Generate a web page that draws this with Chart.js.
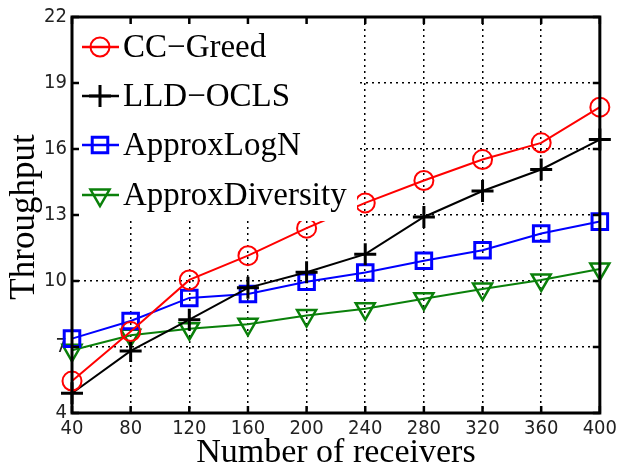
<!DOCTYPE html>
<html><head><meta charset="utf-8">
<script src="https://cdn.jsdelivr.net/npm/chart.js@4.4.0/dist/chart.umd.min.js"></script>
<style>html,body{margin:0;padding:0;background:#fff}#wrap{width:621px;height:473px}</style>
</head><body><div id="wrap"><canvas id="c" width="621" height="473"></canvas></div>
<script>
const receivers = [40, 80, 120, 160, 200, 240, 280, 320, 360, 400];
const ccGreed = [5.45, 7.7, 10.05, 11.15, 12.4, 13.55, 14.57, 15.52, 16.28, 17.9];
const lldOcls = [4.9, 6.82, 8.24, 9.69, 10.4, 11.22, 12.91, 14.09, 15.07, 16.43];
const approxLogN = [7.38, 8.18, 9.23, 9.41, 9.97, 10.39, 10.92, 11.4, 12.16, 12.7];
const approxDiversity = [6.85, 7.53, 7.83, 8.03, 8.43, 8.74, 9.19, 9.64, 10.05, 10.55];
const yTicks = [4, 7, 10, 13, 16, 19, 22];
const xTicks = receivers;
const seriesNames = ['CC\u2212Greed', 'LLD\u2212OCLS', 'ApproxLogN', 'ApproxDiversity'];
const xTitle = 'Number of receivers';
const yTitle = 'Throughput';

const SERIF = "'Liberation Serif', 'DejaVu Serif', serif";
const NARROW = "'DejaVu Sans Condensed', 'Liberation Sans Narrow', 'Liberation Sans', sans-serif";

function mk(label, data, color, style, radius, bw, rot) {
  return {
    label, data: data.map((v, i) => ({x: receivers[i], y: v})),
    borderColor: color, backgroundColor: 'rgba(0,0,0,0)', borderWidth: 2,
    pointStyle: style, pointRadius: radius, pointBorderWidth: bw, pointRotation: rot || 0,
    pointBorderColor: color, pointBackgroundColor: 'rgba(0,0,0,0)',
    tension: 0, clip: false
  };
}

const legendPlugin = {
  id: 'innerLegend',
  afterDatasetsDraw(chart) {
    const ctx = chart.ctx, a = chart.chartArea;
    ctx.save();
    ctx.fillStyle = '#fff';
    ctx.fillRect(a.left, a.top, 357 - a.left, 221 - a.top);
    const ys = [47, 96, 145, 195];
    chart.data.datasets.forEach((ds, i) => {
      const y = ys[i];
      ctx.strokeStyle = ds.borderColor; ctx.lineWidth = 2.5;
      ctx.beginPath(); ctx.moveTo(82, y); ctx.lineTo(119, y); ctx.stroke();
      ctx.fillStyle = 'rgba(0,0,0,0)';
      ctx.lineWidth = ds.pointBorderWidth;
      Chart.helpers.drawPoint(ctx, {pointStyle: ds.pointStyle, rotation: ds.pointRotation, radius: ds.pointRadius, borderWidth: ds.pointBorderWidth}, 100, y);
      ctx.fillStyle = '#000';
      ctx.font = '33px ' + SERIF;
      ctx.textBaseline = 'middle'; ctx.textAlign = 'left';
      ctx.fillText(ds.label, 123, y + 1);
    });
    ctx.restore();
  }
};

const framePlugin = {
  id: 'frame',
  afterDraw(chart) {
    const ctx = chart.ctx, a = chart.chartArea;
    const xs = chart.scales.x, ys = chart.scales.y;
    ctx.save();
    ctx.strokeStyle = '#000';
    ctx.lineWidth = 2.5;
    const L = 7;
    ctx.beginPath();
    xTicks.forEach(v => {
      const px = xs.getPixelForValue(v);
      ctx.moveTo(px, a.bottom); ctx.lineTo(px, a.bottom - L);
      ctx.moveTo(px, a.top); ctx.lineTo(px, a.top + L);
    });
    yTicks.forEach(v => {
      const py = ys.getPixelForValue(v);
      ctx.moveTo(a.left, py); ctx.lineTo(a.left + L, py);
      ctx.moveTo(a.right, py); ctx.lineTo(a.right - L, py);
    });
    ctx.stroke();
    ctx.lineWidth = 3;
    ctx.strokeRect(a.left, a.top, a.right - a.left, a.bottom - a.top);
    // y title
    ctx.translate(25, (a.top + a.bottom) / 2 + 2);
    ctx.rotate(-Math.PI / 2);
    ctx.fillStyle = '#000';
    ctx.font = '35px ' + SERIF;
    ctx.textAlign = 'center'; ctx.textBaseline = 'middle';
    ctx.fillText(yTitle, 0, 0);
    ctx.restore();
  }
};

const gridCommon = {color: '#000', lineWidth: 1.5, drawTicks: false};

new Chart(document.getElementById('c'), {
  type: 'line',
  data: {
    datasets: [
      mk(seriesNames[0], ccGreed, '#ff0000', 'circle', 9.5, 2, 0),
      mk(seriesNames[1], lldOcls, '#000000', 'cross', 11, 3, 0),
      mk(seriesNames[2], approxLogN, '#0000ff', 'rect', 11, 3, 0),
      mk(seriesNames[3], approxDiversity, '#0a800a', 'triangle', 11, 2.5, 180)
    ]
  },
  options: {
    responsive: false, devicePixelRatio: 1, animation: false,
    layout: {padding: {left: 0, right: 15, top: 15, bottom: 0}},
    plugins: {legend: {display: false}, tooltip: {enabled: false}},
    scales: {
      x: {
        type: 'linear', min: 40, max: 400,
        afterBuildTicks: s => { s.ticks = xTicks.map(v => ({value: v})); },
        afterFit: s => { s.height = 60; },
        grid: gridCommon,
        border: {display: false, dash: [2, 4]},
        ticks: {color: '#222', font: {family: NARROW, size: 20}, padding: 4, maxRotation: 0, autoSkip: false},
        title: {display: true, text: xTitle, color: '#000', font: {family: SERIF, size: 34}, padding: {top: 0, bottom: 0}}
      },
      y: {
        min: 4, max: 22,
        afterBuildTicks: s => { s.ticks = yTicks.map(v => ({value: v})); },
        afterFit: s => { s.width = 72; },
        grid: gridCommon,
        border: {display: false, dash: [2, 4]},
        ticks: {color: '#222', font: {family: NARROW, size: 20}, padding: 5, autoSkip: false}
      }
    }
  },
  plugins: [legendPlugin, framePlugin]
});
</script></body></html>
